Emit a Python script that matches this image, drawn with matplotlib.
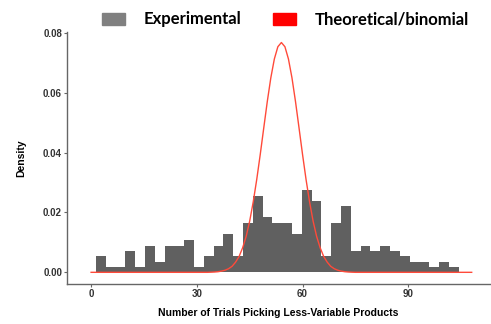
import numpy as np
import matplotlib
matplotlib.use("Agg")
import matplotlib.pyplot as plt
from matplotlib.patches import Patch

bin_start = 1.4
bin_width = 2.78
density = [0.0056, 0.0017, 0.0017, 0.0072, 0.0017, 0.0089, 0.0036, 0.0089,
           0.0089, 0.0107, 0.0017, 0.0054, 0.0089, 0.0128, 0.0054, 0.0164,
           0.0256, 0.0184, 0.0164, 0.0164, 0.0128, 0.0275, 0.0240, 0.0054,
           0.0164, 0.0220, 0.0072, 0.0089, 0.0072, 0.0089, 0.0072, 0.0056,
           0.0036, 0.0036, 0.0017, 0.0036, 0.0017]

# theoretical curve, values at integer x (zero outside 34..74)
theo_x0 = 34
theo_y = [0.00004, 0.0001, 0.0002, 0.0004, 0.0007, 0.0012, 0.0020, 0.0034,
          0.0053, 0.0082, 0.0120, 0.0171, 0.0235, 0.0310, 0.0394, 0.0483,
          0.0571, 0.0650, 0.0713, 0.0754, 0.0768, 0.0754, 0.0713, 0.0650,
          0.0571, 0.0483, 0.0394, 0.0310, 0.0235, 0.0171, 0.0120, 0.0082,
          0.0053, 0.0034, 0.0020, 0.0012, 0.0007, 0.0004, 0.0002, 0.0001,
          0.00004]
theo_xmax = 108

edges = bin_start + bin_width * np.arange(len(density))
tx = np.arange(0, theo_xmax + 1)
ty = np.zeros(len(tx))
ty[theo_x0:theo_x0 + len(theo_y)] = theo_y

fig = plt.figure(figsize=(4.91, 3.24), dpi=100)
ax = fig.add_axes([0.136, 0.1235, 0.862, 0.7785])

ax.bar(edges, density, width=bin_width, align="edge", color="#606060", linewidth=0)
ax.plot(tx, ty, color="#ff4a3a", linewidth=1.0, zorder=3)

ax.set_xlim(-6.9, 113.2)
ax.set_ylim(-0.0039, 0.0804)
ax.set_xticks([0, 30, 60, 90])
ax.set_yticks([0.00, 0.02, 0.04, 0.06, 0.08])
ax.set_yticklabels(["0.00", "0.02", "0.04", "0.06", "0.08"])

for s in ["top", "right"]:
    ax.spines[s].set_visible(False)
for s in ["left", "bottom"]:
    ax.spines[s].set_color("#666666")
    ax.spines[s].set_linewidth(1.0)
ax.tick_params(length=2.2, width=0.8, color="#666666", labelsize=7,
               labelcolor="#333333", pad=1.2)
for lab in ax.get_xticklabels() + ax.get_yticklabels():
    lab.set_fontweight("bold")
    lab.set_family("Liberation Sans")

ax.set_ylabel("Density", fontsize=7.5, fontweight="bold", family="Liberation Sans",
              labelpad=12)
ax.set_xlabel("Number of Trials Picking Less-Variable Products", fontsize=7.5,
              fontweight="bold", family="Liberation Sans", labelpad=7)

handles = [Patch(color="#808080"), Patch(color="#ff0000")]
fig.legend(handles, ["Experimental", "Theoretical/binomial"], ncol=2,
           loc="center left", bbox_to_anchor=(0.177, 0.94), frameon=False,
           handlelength=1.4, handleheight=0.72, handletextpad=1.1,
           columnspacing=1.9, prop={"family": "Lato", "weight": "bold", "size": 12})

fig.savefig("out.png", dpi=100)
